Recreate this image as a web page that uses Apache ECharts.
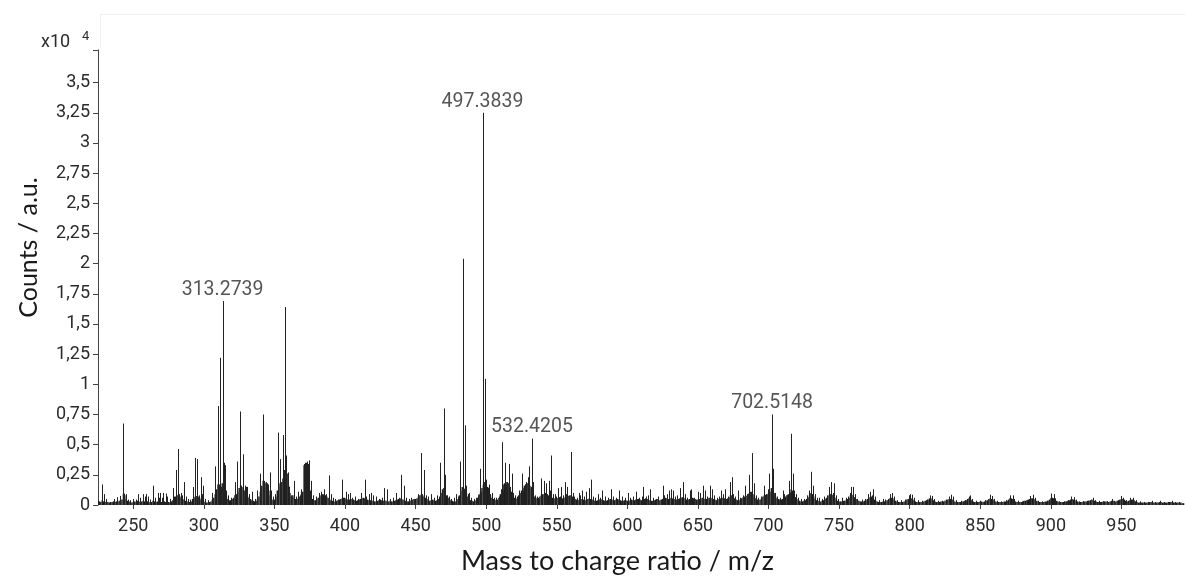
<!DOCTYPE html>
<html><head><meta charset="utf-8">
<script src="https://cdn.jsdelivr.net/npm/echarts@6/dist/echarts.min.js"></script>
<style>html,body{margin:0;padding:0;background:#fff}#c{width:1185px;height:580px}</style>
</head><body><div id="c"></div>
<script>
// ---- axis ticks ----
const xTicks = [250,300,350,400,450,500,550,600,650,700,750,800,850,900,950];
const yTicks = [0,2500,5000,7500,10000,12500,15000,17500,20000,22500,25000,27500,30000,32500,35000];
const xMin = 225, xMax = 995, yMax = 37700;

// ---- annotated peaks ----
const labelledMz = [313.2739, 497.3839, 532.4205, 702.5148];
const labelledCounts = [16900, 32500, 5500, 7500];

// ---- other resolved peaks [m/z, counts] ----
const peakList = [
[228.1,1700],[229.5,900],[231,500],[236,500],[238.5,650],[240.3,750],[242.5,6750],[243.5,950],[244.5,900],[246,450],[248,400],[250,500],[252,450],[253.5,900],[255,600],[256.6,900],[258,700],[259,900],[260.5,700],[262,450],[264.1,1600],[265.5,600],[267.2,1000],[268.3,600],[269.1,1000],[270,600],[270.8,1000],[272.9,950],[274,700],[276,500],
[278.1,1400],[279,700],[280,2900],[281.6,4640],[282.5,900],[283.5,1000],[284.5,800],[286.1,1900],[287,700],[288.5,500],[290,450],[292,1500],[293.8,3900],[295.3,3800],[296.3,800],[297.7,2300],[298.5,900],[299.5,1600],[301,500],[303,400],[305.9,1000],
[308,3200],[309.7,8200],[310.5,1700],[311.5,12200],[312.3,1500],[314.1,3500],[315,3300],[316,1200],[317,800],[319,600],
[321.9,1900],[323.8,3600],[325.4,7750],[326.3,1600],[327.8,4200],[328.8,1600],[329.8,1500],[330.8,1500],[332,900],[334,1100],[336,500],[337.8,1200],
[339.6,2600],[341.9,7500],[342.8,2000],[343.7,1900],[344.6,1800],[345.5,1700],[346.7,2700],[347.8,1200],[349,700],[350.5,900],
[352.5,6000],[353.7,3800],[354.8,1800],[356,5800],[357.6,16400],[358.5,4100],[359.5,2700],[360.5,1500],[361.5,800],[363.6,2000],[365,700],[366.7,1100],[368,800],[369,1300],
[370.8,3400],[371.5,3500],[372.2,3500],[372.9,3600],[373.6,3400],[374.3,3700],[375,1200],[376.2,2000],[377.5,800],[379.7,700],[381.7,1000],[383,1100],[384.2,800],[385.4,1300],[386.5,900],[388.6,2450],[390,900],[391.5,600],[393,500],[395,450],[397.7,2100],[399,600],[400.5,1100],[402,900],[403.5,1000],[405,600],[407,700],[409,500],[411.5,1000],[413.9,2100],[415,700],[417,900],[418.5,1000],[420,800],[422,700],[424,500],[426,600],[427.6,1400],[430,1300],[432,500],[434,600],[436.3,1000],[438,600],[439.3,2500],[441.7,1600],[443,600],[445,500],[447,600],[449,500],[451.6,900],[453.5,4300],[454.5,900],[455.8,2900],[457,800],[458.5,700],[461,900],[463,600],[465.2,800],[467.4,3500],[468.5,1000],[469.9,8000],[470.9,2500],[472,800],[473.5,700],[475,500],[477,600],[478.6,900],[480,700],[481.5,3600],[483.4,20400],[484.4,1300],[485.1,6600],[486,1600],[487,900],[488,1000],[489.5,600],[491,500],[493,600],[494,800],[495.3,3000],[496.3,1100],[498.3,1500],[499,10450],[500.2,2100],[501,1400],[502,1700],[503,900],[504,1000],[505.5,600],[507,600],[509,700],
[511.2,5200],[512.1,1200],[513.3,3500],[514.2,1700],[515,1900],[515.9,3400],[516.8,1500],[518.3,2600],[519.3,1000],[520.5,800],[522,700],[523.5,1200],[525.3,2600],[526.2,1200],[527.2,1700],[528.3,1900],[529.3,2300],[530.5,3200],[531.5,1500],[533.4,1900],[534.5,800],[536,700],[537.5,500],[539,2200],[540.6,2000],[541.6,1000],[542.5,1800],[543.4,900],[544.2,2000],[545,1200],[546.2,4100],[547.2,900],[548.4,900],[549.5,700],[550.7,1400],[552,700],[553.1,1500],[554.3,800],[555.5,1900],[556.5,900],[557.3,1500],[558.5,700],[560.2,4400],[561.2,1000],[562.5,700],[564,600],[565.5,1000],[566.5,800],[568.2,1200],[569.5,700],[570.8,1100],[572.7,1400],[574.3,2100],[575.5,700],[577,600],[579,900],[580.5,600],[582.3,1200],[584,700],[586,600],[588.5,1300],[590,700],[592,600],[594.4,1200],[596,700],[598,600],[600.3,1000],[602,600],[604,700],[606.2,1100],[608,600],[610,700],[611.4,1500],[613,700],[614.5,800],[616.3,1300],[618,600],[620,500],[622,700],[624.9,1600],[626,800],[628,900],[629.6,1200],[630.8,1300],[632.6,1200],[634,700],[635.5,800],[637.4,1400],[639.1,1900],[640.5,900],[642,600],[644.2,1200],[645.3,1300],[647,600],[649.8,1100],[651.5,1000],[653.3,1600],[655.3,1200],[656.5,700],[658.5,1600],[660.2,1300],[661.5,800],[663.5,600],[665,700],[666.6,1200],[668,900],[669.4,1300],[671,700],[672.6,1900],[673.9,2300],[675,900],[676.5,700],[678.2,1200],[680,600],[682,800],[683.3,1600],[684.5,900],[686.3,2500],[688.2,4300],[689.4,1800],[691,800],[692.5,600],[694.5,700],[696.8,1600],[698,900],[699.3,1300],[700.5,2600],[701.5,1100],[703.4,3000],[704.5,1000],[706,700],[708,600],[710,1200],[711.2,900],[713,800],[714.2,2000],[715.1,1000],[716.1,5900],[717.1,2600],[718.2,1200],[719.2,900],[721,600],[723,500],[725,500],[727.4,800],[728.6,1200],[730.3,2750],[731.6,1600],[732.6,900],[734,600],[736,600],[738,500],[739.5,700],[741.1,800],[742.5,1500],[743.5,900],[744.4,1900],[745.3,1000],[746.3,1800],[747.5,800],[749.5,500],[752.3,600],[754.6,600],[756.5,700],[757.7,1000],[758.5,1500],[759.9,1500],[761.3,900],[763,500],[766,450],[768.5,500],[770.3,900],[772.2,1100],[773.2,800],[774.2,1300],[775.5,700],[778,400],[781,500],[782.5,450],[784.5,500],[786.1,900],[787.6,1000],[789,700],[791,400],[794,400],[797,450],[799.3,800],[800.4,900],[801.8,850],[803,600],[806,400],[809,350],[812,450],[814.3,800],[815.8,750],[817,500],[820,350],[823,350],[825.5,450],[827.6,700],[829.2,850],[830.7,700],[833,400],[836,350],[839,400],[841.8,700],[842.9,800],[844.2,500],[847,350],[850,350],[853,400],[856.6,850],[858.2,750],[859.5,500],[862,350],[865,300],[868,400],[871.2,800],[872.9,800],[874.2,500],[877,350],[880,300],[883,400],[885.4,750],[887.2,850],[888.5,600],[891,350],[894,300],[897,350],[900.2,950],[901.9,900],[903,550],[906,300],[909,300],[912,400],[914.4,700],[916.1,650],[917.5,450],[920,300],[923,300],[926,350],[929.6,600],[931,400],[934,350],[937,300],[940,300],[943,500],[945,350],[948,400],[949.5,750],[951.3,600],[953,400],[956,600],[958.4,600],[960,400],[963,300],[966,250],[969,250],[971.3,350],[974,250],[977.2,350],[980,250],[983,250],[985.5,350],[988,250],[991,250]
];

// ---- dense low-level signal, one value per m/z unit starting at 225 ----
const baselineStartMz = 225;
const baselineCounts = [
350,300,250,400,300,250,300,250,200,250,
250,300,250,300,250,350,400,450,900,800,
500,350,300,250,200,250,300,250,350,300,
250,300,350,300,250,300,250,200,250,350,
300,250,300,350,300,250,300,300,250,200,
250,200,300,400,500,700,800,850,700,600,
500,450,350,300,250,250,300,500,650,700,
750,700,600,450,400,300,250,200,200,250,
300,450,600,900,1300,1700,1600,1500,1800,1700,
1200,700,500,400,400,500,600,800,900,1100,
1400,1600,1500,1300,1200,900,700,600,500,400,
350,300,350,500,700,1100,1600,2000,1900,1800,
1700,1200,800,500,400,450,700,1200,1600,1800,
1900,2200,2900,3800,2600,1600,1000,700,800,600,
500,500,600,700,900,1100,3300,3400,3300,3200,
1000,700,500,400,400,500,600,700,800,900,
900,800,700,600,500,400,350,300,300,350,
400,450,500,550,600,550,500,450,450,500,
500,450,400,350,400,450,500,550,600,550,
500,450,400,400,350,350,300,300,350,400,
450,400,350,400,350,300,300,350,300,300,
350,400,450,500,550,500,450,400,350,300,
300,350,400,450,500,500,550,700,800,850,
800,700,600,500,400,350,400,450,400,350,
400,500,700,1000,1300,1400,1200,800,600,500,
400,350,300,300,350,500,800,1200,1500,1400,
1300,1000,700,500,400,350,300,350,400,600,
900,1100,1400,1700,1900,1800,1500,1100,800,600,
500,450,400,450,600,900,1300,1700,1800,1900,
1900,1800,1500,1100,800,600,500,600,800,1000,
1200,1400,1600,1700,1800,1800,1600,1400,1000,700,
600,550,600,700,800,900,900,850,800,800,
750,700,600,550,500,550,600,650,600,550,
600,650,700,750,800,800,700,600,500,450,
400,450,500,500,450,400,450,500,550,500,
450,400,350,350,400,450,500,450,400,350,
350,400,450,500,450,400,400,450,500,450,
400,350,350,400,400,350,350,400,450,400,
400,450,500,500,450,400,450,500,550,500,
450,400,350,350,400,450,500,450,400,450,
500,550,600,550,500,550,600,550,500,450,
450,500,550,600,650,600,500,450,450,500,
550,600,550,500,450,450,500,550,600,550,
500,500,550,600,600,550,500,450,400,450,
500,550,600,600,550,500,550,650,800,800,
700,550,450,400,400,450,550,650,700,750,
800,950,1100,1100,900,700,550,450,400,450,
550,700,800,850,900,1000,1100,1400,1300,1000,
700,550,500,450,450,500,600,700,800,900,
1100,1300,1200,900,650,500,400,350,300,300,
350,400,500,650,800,1000,900,700,500,400,
350,300,300,350,400,500,600,750,850,900,
850,750,600,450,350,300,300,300,350,350,
400,500,600,800,850,800,650,500,400,350,
300,300,300,350,400,500,600,650,700,600,
450,350,300,250,250,250,300,300,350,400,
450,550,600,550,450,350,300,250,250,250,
250,300,350,450,500,550,550,500,400,300,
250,250,250,250,250,300,350,400,450,550,
550,500,400,300,250,250,250,300,300,300,
350,400,450,500,500,450,400,300,250,250,
250,250,300,300,350,400,500,550,500,400,
300,250,250,250,250,300,300,250,300,350,
400,500,550,500,450,350,300,250,250,250,
250,250,300,300,350,450,550,550,500,400,
300,250,250,250,250,300,350,350,400,450,
500,550,550,500,400,350,300,250,250,250,
250,300,300,350,450,550,600,550,450,350,
300,250,250,250,250,300,300,350,400,450,
500,450,400,350,300,250,250,250,300,300,
300,350,350,400,450,400,350,300,250,250,
250,250,300,300,300,300,250,300,350,350,
300,300,350,400,450,500,500,450,350,300,
350,400,450,450,400,300,250,200,200,200,
200,200,200,200,200,250,250,200,200,200,
200,200,250,250,200,200,200,200,200,250,
250,250,200,200,200,200,200,200,150,150
];

const baselineData = baselineCounts.map((c, i) => [baselineStartMz + i, c]);
const labelledData = labelledMz.map((m, i) => [m, labelledCounts[i]]);
const stickData = peakList.concat(labelledData);

const chart = echarts.init(document.getElementById('c'));
chart.setOption({
  animation: false,
  backgroundColor: '#ffffff',
  grid: { left: 98, right: 0, top: 50, bottom: 65, containLabel: false },
  graphic: [
    { type: 'line', z: -10, shape: { x1: 100, y1: 14.5, x2: 1185, y2: 14.5 },
      style: { stroke: '#efefef', lineWidth: 1 } },
    { type: 'line', z: -10, shape: { x1: 100.5, y1: 14, x2: 100.5, y2: 48 },
      style: { stroke: '#efefef', lineWidth: 1 } },
    { type: 'text', left: 41, top: 33,
      style: { text: 'x10', font: '18px Roboto', fill: '#2b2b2b' } },
    { type: 'text', left: 82, top: 30,
      style: { text: '4', font: '13px Roboto', fill: '#2b2b2b' } }
  ],
  xAxis: {
    type: 'value', min: xMin, max: xMax, offset: 4,
    axisLine: { show: false },
    axisTick: { show: true, length: 4, customValues: xTicks, lineStyle: { color: '#444' } },
    axisLabel: { customValues: xTicks, fontFamily: 'Roboto', fontSize: 18, color: '#2b2b2b', margin: 8 },
    splitLine: { show: false },
    name: 'Mass to charge ratio / m/z', nameLocation: 'middle', nameGap: 39,
    nameTextStyle: { fontFamily: 'Lato', fontSize: 27, color: '#1a1a1a', padding: [0, 48, 0, 0] }
  },
  yAxis: {
    type: 'value', min: 0, max: yMax,
    axisLine: { show: true, lineStyle: { color: '#444' } },
    axisTick: { show: true, length: 5, customValues: yTicks.concat([yMax]), lineStyle: { color: '#444' } },
    axisLabel: { customValues: yTicks, fontFamily: 'Roboto', fontSize: 18, color: '#2b2b2b', margin: 8,
      formatter: v => String(v / 10000).replace('.', ',') },
    splitLine: { show: false },
    name: 'Counts / a.u.', nameLocation: 'middle', nameRotate: 90, nameGap: 57,
    nameTextStyle: { fontFamily: 'Lato', fontSize: 25, color: '#1a1a1a', padding: [0, 0, 0, 60] }
  },
  series: [
    {
      name: 'baseline', type: 'custom', clip: true, data: baselineData,
      encode: { x: 0, y: 1 },
      renderItem: (params, api) => {
        const x = api.value(0), h = api.value(1);
        const p0 = api.coord([x - 0.5, h]);
        const p1 = api.coord([x + 0.5, 0]);
        return { type: 'rect', shape: { x: p0[0], y: p0[1], width: p1[0] - p0[0], height: p1[1] - p0[1] },
          style: { fill: '#1c1c1c' } };
      }
    },
    {
      name: 'peaks', type: 'custom', clip: true, data: stickData,
      encode: { x: 0, y: 1 },
      renderItem: (params, api) => {
        const x = api.value(0), h = api.value(1);
        const a = api.coord([x, 0]);
        const b = api.coord([x, h]);
        const px = Math.round(a[0]) + 0.5;
        return { type: 'line', shape: { x1: px, y1: a[1], x2: px, y2: b[1] },
          style: { stroke: '#222', lineWidth: 1 } };
      }
    },
    {
      name: 'labels', type: 'scatter', data: labelledData, symbolSize: 0, silent: true,
      label: { show: true, position: 'top', distance: 1, fontFamily: 'Roboto', fontSize: 19.5, color: '#2b2b2b',
        formatter: p => p.value[0].toFixed(4) }
    }
  ]
});
</script>
</body></html>
